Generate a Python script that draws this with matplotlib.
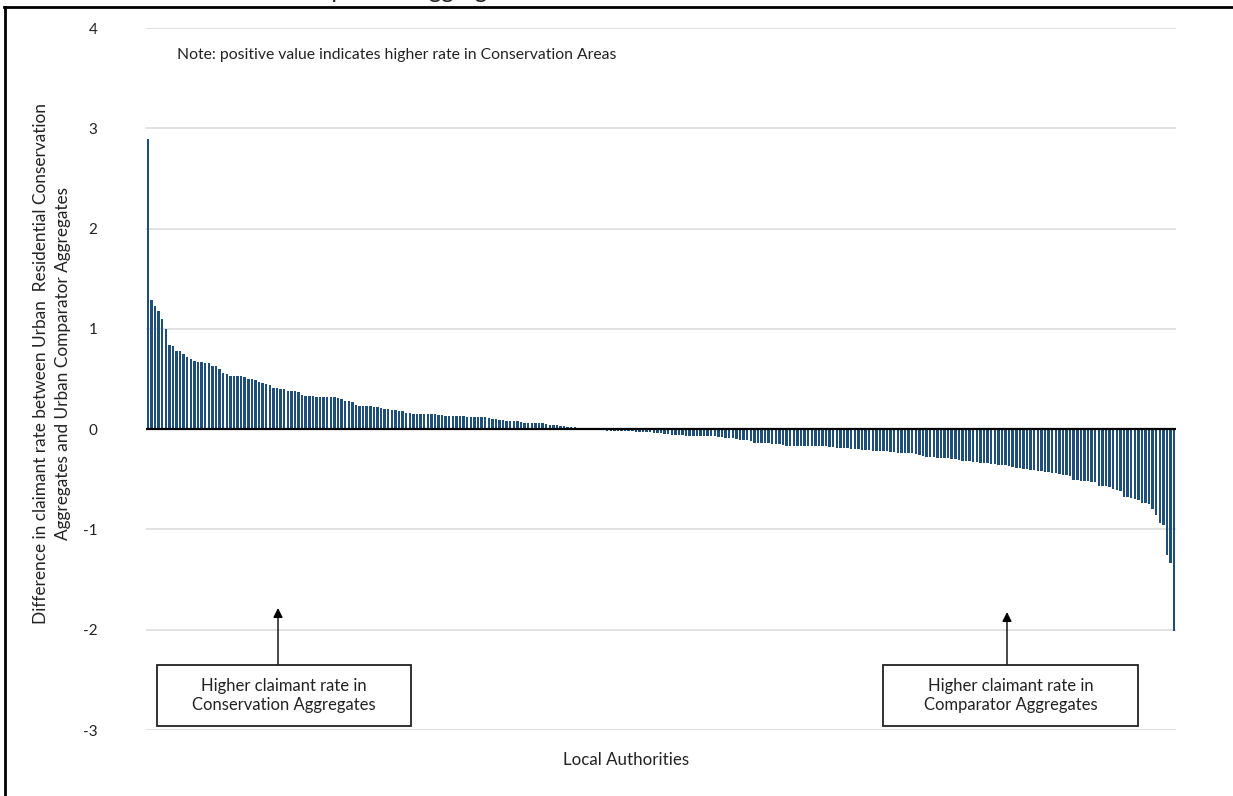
import matplotlib
matplotlib.use("Agg")
import matplotlib.pyplot as plt
from matplotlib.patches import Rectangle
from matplotlib.lines import Line2D

plt.rcParams['font.family'] = ['Lato', 'DejaVu Sans']

# ---- data (difference in claimant rate, sorted, one bar per Local Authority) ----
values_high = [2.89, 1.29, 1.23, 1.18, 1.10, 1.00, 0.84, 0.83, 0.78, 0.78, 0.75, 0.72,
               0.70, 0.68, 0.67, 0.665, 0.66, 0.655, 0.63, 0.625, 0.60, 0.56, 0.55, 0.53,
               0.53, 0.53, 0.53, 0.52, 0.50, 0.50, 0.495, 0.47, 0.46, 0.45, 0.44, 0.41]
values_mid_pos = [0.41, 0.405, 0.40, 0.385, 0.38, 0.38, 0.37, 0.34, 0.335, 0.335, 0.33,
                  0.32, 0.32, 0.32, 0.32, 0.32, 0.32, 0.315, 0.305, 0.285, 0.28, 0.27,
                  0.24, 0.235, 0.235, 0.23, 0.23, 0.225, 0.22, 0.21, 0.20, 0.196]
values_low_pos = [0.19, 0.19, 0.185, 0.176, 0.165, 0.163, 0.15, 0.15, 0.15, 0.15, 0.15,
                  0.148, 0.147, 0.14, 0.14, 0.133, 0.133, 0.133, 0.133, 0.132, 0.13,
                  0.126, 0.125, 0.12, 0.12, 0.12, 0.118, 0.115, 0.103, 0.103, 0.093,
                  0.093, 0.086, 0.086, 0.083, 0.08, 0.07, 0.063, 0.06, 0.06, 0.06, 0.06,
                  0.058, 0.056, 0.043, 0.043, 0.042, 0.035, 0.03, 0.023, 0.023, 0.02, 0.013]
values_near_zero = [0.012, 0.007, 0.003, -0.003, -0.007, -0.007, -0.008, -0.015, -0.017,
                    -0.017, -0.018, -0.02, -0.021, -0.023, -0.023, -0.024, -0.025, -0.026,
                    -0.027, -0.03, -0.034, -0.036, -0.04, -0.047, -0.049, -0.055, -0.057,
                    -0.063, -0.063, -0.064, -0.065, -0.066, -0.066, -0.067, -0.068, -0.069,
                    -0.07, -0.073, -0.08, -0.081, -0.09, -0.091, -0.092, -0.094, -0.11,
                    -0.112, -0.113, -0.116, -0.14]
values_mid_neg = [-0.14, -0.14, -0.14, -0.14, -0.145, -0.153, -0.153, -0.16, -0.166, -0.166,
                  -0.166, -0.166, -0.166, -0.167, -0.167, -0.168, -0.168, -0.17, -0.17,
                  -0.172, -0.183, -0.183, -0.185, -0.186, -0.187, -0.19, -0.196, -0.197,
                  -0.2, -0.206, -0.207, -0.208, -0.215, -0.22, -0.22, -0.221, -0.222,
                  -0.225, -0.23, -0.233, -0.234, -0.235, -0.236, -0.24, -0.25, -0.262,
                  -0.268, -0.275, -0.28, -0.282, -0.284, -0.286, -0.287, -0.292, -0.296,
                  -0.298, -0.31, -0.316, -0.318, -0.32, -0.326, -0.33, -0.338, -0.34,
                  -0.342, -0.346, -0.352, -0.356, -0.362]
values_low = [-0.362, -0.365, -0.382, -0.383, -0.385, -0.40, -0.402, -0.405, -0.41, -0.42,
              -0.422, -0.43, -0.432, -0.435, -0.442, -0.445, -0.458, -0.46, -0.465, -0.505,
              -0.51, -0.518, -0.52, -0.522, -0.528, -0.53, -0.565, -0.568, -0.571, -0.575,
              -0.598, -0.61, -0.612, -0.678, -0.68, -0.69, -0.694, -0.704, -0.737, -0.74,
              -0.747, -0.797, -0.854, -0.937, -0.953, -1.252, -1.335, -2.01]

diff_values = (values_high + values_mid_pos + values_low_pos + values_near_zero
               + values_mid_neg + values_low)
y_ticks = [-3, -2, -1, 0, 1, 2, 3, 4]

title_text = "Conservation Areas vs Comparator Aggregates"
y_label = ("Difference in claimant rate between Urban  Residential Conservation\n"
           "Aggregates and Urban Comparator Aggregates")
x_label = "Local Authorities"
note_text = "Note: positive value indicates higher rate in Conservation Areas"
box_left_text = "Higher claimant rate in\nConservation Aggregates"
box_right_text = "Higher claimant rate in\nComparator Aggregates"

# ---- figure ----
W, H = 1233, 796
fig = plt.figure(figsize=(W / 100, H / 100), dpi=100)

def fx(x):
    return x / W

def fy(y):
    return 1 - y / H

ax = fig.add_axes([fx(146), fy(730), fx(1176) - fx(146), fy(28) - fy(730)])

n = len(diff_values)
positions = list(range(n))
ax.bar(positions, diff_values, width=0.68, color='#1f4e79', linewidth=0, zorder=2)

ax.set_xlim(-0.5, n - 0.5)
ax.set_ylim(-3, 4)
ax.set_yticks(y_ticks)
ax.set_yticklabels([str(t) for t in y_ticks])
ax.set_xticks([])
ax.yaxis.grid(True, color='#d9d9d9', linewidth=1.1, zorder=0)
ax.set_axisbelow(True)
for s in ax.spines.values():
    s.set_visible(False)
ax.axhline(0, color='black', linewidth=1.6, zorder=3)
ax.tick_params(axis='y', length=0, pad=35, labelsize=11, labelcolor='#222222')

# axis labels
fig.text(fx(52), fy(364), y_label, rotation=90, ha='center', va='center',
         fontsize=12.4, color='#222222', linespacing=1.4)
fig.text(fx(626), fy(760), x_label, ha='center', va='center', fontsize=12.2,
         color='#222222')
fig.text(fx(177), fy(55), note_text, ha='left', va='center', fontsize=11.3,
         color='#222222')

# clipped title above the frame
fig.text(fx(530), fy(-2), title_text, ha='right', va='baseline', fontsize=17,
         color='#222222')

# outer frame (top and left)
fig.add_artist(Line2D([fx(4), fx(1233)], [fy(7), fy(7)], color='black', linewidth=2,
                      transform=fig.transFigure))
fig.add_artist(Line2D([fx(5), fx(5)], [fy(7), fy(796)], color='black', linewidth=2,
                      transform=fig.transFigure))

# annotation boxes with arrows
def add_box(x0, x1, y0, y1, text, arrow_x, arrow_tip_y):
    rect = Rectangle((fx(x0), fy(y1)), fx(x1) - fx(x0), fy(y0) - fy(y1),
                     transform=fig.transFigure, facecolor='white',
                     edgecolor='#222222', linewidth=1.3, zorder=5)
    fig.add_artist(rect)
    fig.text(fx((x0 + x1) / 2), fy((y0 + y1) / 2), text, ha='center', va='center',
             fontsize=12.0, color='#222222', linespacing=1.3, zorder=6)
    ax.annotate('', xy=(fx(arrow_x), fy(arrow_tip_y)), xycoords='figure fraction',
                xytext=(fx(arrow_x), fy(y0)), textcoords='figure fraction',
                arrowprops=dict(arrowstyle='-|>', color='black', linewidth=1.0,
                                mutation_scale=14, shrinkA=0, shrinkB=0))

add_box(157, 411, 665, 726, box_left_text, 278, 608)
add_box(883, 1138, 665, 726, box_right_text, 1007, 612)

fig.savefig('out.png', dpi=100, facecolor='white')
